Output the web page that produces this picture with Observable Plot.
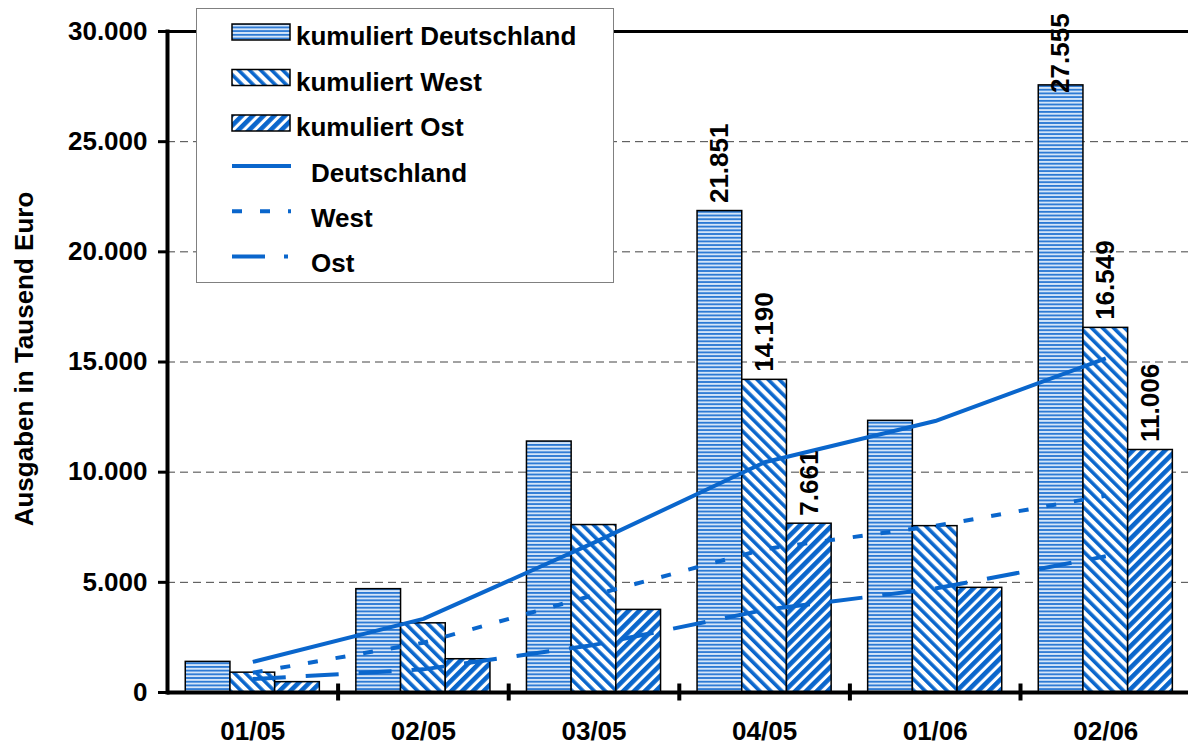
<!DOCTYPE html>
<html>
<head>
<meta charset="utf-8">
<script src="https://cdn.jsdelivr.net/npm/d3@7"></script>
<script src="https://cdn.jsdelivr.net/npm/@observablehq/plot@0.6"></script>
<style>
  body { margin: 0; background: #fff; }
  #wrap { position: relative; width: 1188px; height: 745px; overflow: hidden; background: #fff; }
  #legend { position: absolute; left: 196px; top: 8px; font-family: 'Liberation Sans', Arial, sans-serif; font-weight: bold; font-size: 26px; }
</style>
</head>
<body>
<svg width="0" height="0" style="position:absolute">
  <defs>
    <pattern id="patD" patternUnits="userSpaceOnUse" width="8" height="3.7">
      <rect width="8" height="3.7" fill="#d4e5f8"></rect>
      <rect width="8" height="1.8" fill="#2a78d4"></rect>
    </pattern>
    <pattern id="patW" patternUnits="userSpaceOnUse" width="7.8" height="8" patternTransform="rotate(-45)">
      <rect width="7.8" height="8" fill="#ffffff"></rect>
      <rect width="3.6" height="8" fill="#0a66cc"></rect>
    </pattern>
    <pattern id="patO" patternUnits="userSpaceOnUse" width="7.6" height="8" patternTransform="rotate(45)">
      <rect width="7.6" height="8" fill="#ffffff"></rect>
      <rect width="4.6" height="8" fill="#0a66cc"></rect>
    </pattern>
  </defs>
</svg>
<div id="wrap"></div>
<script>
// ---- data ----
const categories = ["01/05", "02/05", "03/05", "04/05", "01/06", "02/06"];
const seriesBars = ["kumuliert Deutschland", "kumuliert West", "kumuliert Ost"];
const seriesLines = ["Deutschland", "West", "Ost"];
const kumDeutschland = [1390, 4690, 11390, 21851, 12330, 27555];
const kumWest = [900, 3140, 7600, 14190, 7550, 16549];
const kumOst = [470, 1510, 3750, 7661, 4750, 11006];
const lineDeutschland = [1390, 3340, 6800, 10450, 12320, 15170];
const lineWest = [900, 2260, 4420, 6510, 7560, 8930];
const lineOst = [610, 1050, 2160, 3750, 4720, 6180];
const yTicks = [0, 5000, 10000, 15000, 20000, 25000, 30000];
const labelledPeriods = ["04/05", "02/06"];

// ---- derived tables ----
const BLUE = "#0a66cc";
const patterns = ["url(#patD)", "url(#patW)", "url(#patO)"];
const lineDash = [null, "10,18", "33,20"];
const legendDash = [null, "10,18", "33,19,4,200"];
const barValues = [kumDeutschland, kumWest, kumOst];
const lineValues = [lineDeutschland, lineWest, lineOst];
const PAD = 0.107;
const BW = (1 - 2 * PAD) / 3;
// like the original spreadsheet, a value label that would leave the plot area is kept inside it
const LABEL_CAP = 26850;

const bars = categories.flatMap((c, i) =>
  barValues.map((vals, j) => ({period: c, i, j, series: seriesBars[j], value: vals[i]})));
const lineRows = lineValues.map((vals, j) => vals.map((v, i) => ({i, j, series: seriesLines[j], value: v})));
const boundaries = categories.slice(1).map((c, i) => i + 0.5);

const de = d3.formatLocale({decimal: ",", thousands: ".", grouping: [3], currency: ["", " €"]});
const fmt = de.format(",d");

const x1 = d => d.i - 0.5 + PAD + d.j * BW;
const x2 = d => d.i - 0.5 + PAD + (d.j + 1) * BW;

const chart = Plot.plot({
  width: 1188,
  height: 745,
  marginLeft: 167,
  marginRight: 0,
  marginTop: 31,
  marginBottom: 53,
  x: {domain: [-0.5, categories.length - 0.5], range: [167, 167 + categories.length * 170.6]},
  y: {domain: [0, 30000]},
  style: {
    fontFamily: "'Liberation Sans', Arial, sans-serif",
    fontWeight: "bold",
    fontSize: "26px",
    color: "black",
    background: "white",
    overflow: "visible"
  },
  marks: [
    Plot.gridY(yTicks.filter(d => d > 0 && d < 30000), {stroke: "#444", strokeOpacity: 1, strokeWidth: 1, strokeDasharray: "8,5"}),
    Plot.ruleY([30000], {stroke: "black", strokeWidth: 3}),
    ...seriesBars.map((s, j) =>
      Plot.rectY(bars.filter(d => d.j === j), {x1, x2, y: "value", fill: patterns[j], stroke: "black", strokeWidth: 1.5})),
    ...lineRows.map((rows, j) =>
      Plot.line(rows, {x: "i", y: "value", stroke: BLUE, strokeWidth: 4, strokeDasharray: lineDash[j], strokeLinecap: "butt"})),
    Plot.text(bars.filter(d => labelledPeriods.includes(d.period)), {
      x: d => (x1(d) + x2(d)) / 2, y: d => Math.min(d.value, LABEL_CAP), text: d => fmt(d.value),
      rotate: -90, textAnchor: "start", dy: -8, fontSize: 26, fill: "black"
    }),
    Plot.ruleY([0], {stroke: "black", strokeWidth: 4}),
    Plot.frame({anchor: "left", stroke: "black", strokeWidth: 4}),
    Plot.axisY({ticks: yTicks, tickFormat: fmt, tickSize: 9, tickPadding: 11, strokeWidth: 3, fontSize: 26, label: null}),
    Plot.axisX({ticks: boundaries, tickSize: 17, dy: -8.5, tickFormat: () => "", strokeWidth: 4, label: null}),
    Plot.text(categories, {x: (d, i) => i, text: d => d, frameAnchor: "bottom", dy: 39, lineAnchor: "middle", fontSize: 26, fill: "black"}),
    Plot.text(["Ausgaben in Tausend Euro"], {text: d => d, frameAnchor: "left", textAnchor: "middle", dx: -143, dy: -3, rotate: -90, fontSize: 26, fill: "black"})
  ]
});

const wrap = document.getElementById("wrap");
wrap.appendChild(chart);

// ---- legend ----
const lg = d3.select(wrap).append("svg").attr("id", "legend").attr("width", 418).attr("height", 276);
lg.append("rect").attr("x", 0.5).attr("y", 0.5).attr("width", 417).attr("height", 274)
  .attr("fill", "white").attr("stroke", "#808080").attr("stroke-width", 1);
seriesBars.forEach((name, j) => {
  const base = 37 + j * 45.5;
  lg.append("rect").attr("x", 36).attr("y", base - 21).attr("width", 58).attr("height", 16)
    .attr("fill", patterns[j]).attr("stroke", "black").attr("stroke-width", 1.5);
  lg.append("text").attr("x", 100).attr("y", base).attr("fill", "black").text(name);
});
seriesLines.forEach((name, j) => {
  const base = 174 + j * 45.2;
  lg.append("line").attr("x1", 36).attr("x2", 95).attr("y1", base - 16).attr("y2", base - 16)
    .attr("stroke", BLUE).attr("stroke-width", 4)
    .attr("stroke-dasharray", legendDash[j]);
  lg.append("text").attr("x", 115).attr("y", base).attr("fill", "black").text(name);
});
</script>
</body>
</html>
